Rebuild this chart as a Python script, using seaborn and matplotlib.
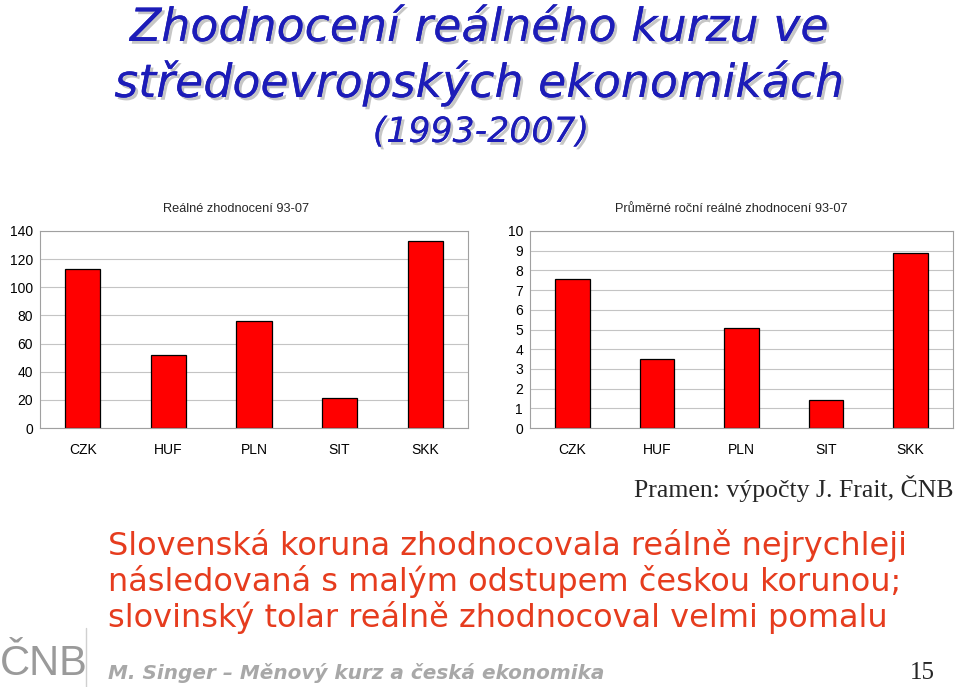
import matplotlib
matplotlib.use("Agg")
import matplotlib.pyplot as plt
import matplotlib.patheffects as pe
import seaborn as sns
import pandas as pd

# data
currencies = ["CZK", "HUF", "PLN", "SIT", "SKK"]
total_apprec = [113, 52, 76, 21, 133]          # Reálné zhodnocení 93-07
annual_apprec = [7.55, 3.5, 5.1, 1.4, 8.9]     # Průměrné roční reálné zhodnocení 93-07

W, H = 960, 687


def fx(x):
    return x / W


def fy(y):
    return 1 - y / H


sns.set_theme(style="whitegrid")
plt.rcParams['font.family'] = ['Liberation Sans', 'DejaVu Sans']

fig = plt.figure(figsize=(9.6, 6.87), dpi=100)
fig.patch.set_facecolor("white")


def bar_panel(rect, values, ymax, step, title, title_x):
    ax = fig.add_axes(rect)
    df = pd.DataFrame({"cur": currencies, "val": values})
    sns.barplot(data=df, x="cur", y="val", ax=ax, color="#FF0000",
                edgecolor="black", linewidth=0.9, width=0.41, saturation=1)
    ax.set_ylim(0, ymax)
    ax.set_yticks(range(0, ymax + 1, step))
    ax.set_xlim(-0.5, len(currencies) - 0.5)
    ax.set_xlabel("")
    ax.set_ylabel("")
    ax.set_facecolor("white")
    ax.grid(axis="y", color="#C4C4C4", linewidth=0.8)
    ax.grid(axis="x", visible=False)
    for s in ax.spines.values():
        s.set_color("#A0A0A0")
        s.set_linewidth(0.8)
    ax.tick_params(axis="both", labelsize=10, colors="black", length=0, pad=5)
    ax.tick_params(axis="x", pad=11)
    ax.set_title(title, fontsize=9.2, pad=14, x=title_x)
    return ax


plot_top, plot_bot = 231, 428
bar_panel([fx(40), fy(plot_bot), fx(468) - fx(40), (plot_bot - plot_top) / H],
          total_apprec, 140, 20, "Reálné zhodnocení 93-07", 0.458)
bar_panel([fx(530), fy(plot_bot), fx(953) - fx(530), (plot_bot - plot_top) / H],
          annual_apprec, 10, 1, "Průměrné roční reálné zhodnocení 93-07", 0.475)

shadow = [pe.withSimplePatchShadow(offset=(2, -2), shadow_rgbFace="#A0A0A0", alpha=0.6), pe.Normal()]
title_kw = dict(color="#1C1CB8", style="italic", ha="center", va="baseline",
                family=["DejaVu Sans"], path_effects=shadow)
fig.text(fx(480), fy(41), "Zhodnocení reálného kurzu ve", fontsize=33, **title_kw)
fig.text(fx(480), fy(97), "středoevropských ekonomikách", fontsize=33, **title_kw)
fig.text(fx(481), fy(142), "(1993-2007)", fontsize=25, **title_kw)

fig.text(fx(953), fy(497), "Pramen: výpočty J. Frait, ČNB", fontsize=18.5,
         family=["Liberation Serif"], ha="right", va="baseline")

msg = ["Slovenská koruna zhodnocovala reálně nejrychleji",
       "následovaná s malým odstupem českou korunou;",
       "slovinský tolar reálně zhodnocoval velmi pomalu"]
for i, line in enumerate(msg):
    fig.text(fx(108), fy(555 + 36 * i), line, fontsize=23, color="#E63C1E",
             family=["DejaVu Sans"], ha="left", va="baseline")

fig.text(fx(108), fy(679), "M. Singer – Měnový kurz a česká ekonomika", fontsize=14.4,
         color="#A8A8A8", style="italic", weight="bold", family=["DejaVu Sans"],
         ha="left", va="baseline")
fig.text(fx(935), fy(679), "15", fontsize=18, family=["Liberation Serif"],
         ha="right", va="baseline")

# CNB logo as text plus divider
fig.text(fx(0), fy(675), "ČNB", fontsize=30, color="#9A9A9A",
         family=["Liberation Sans"], ha="left", va="baseline")
fig.add_artist(plt.Line2D([fx(86), fx(86)], [fy(628), fy(687)], color="#D0D0D0", linewidth=1))

fig.savefig("out.png", dpi=100, facecolor="white")
